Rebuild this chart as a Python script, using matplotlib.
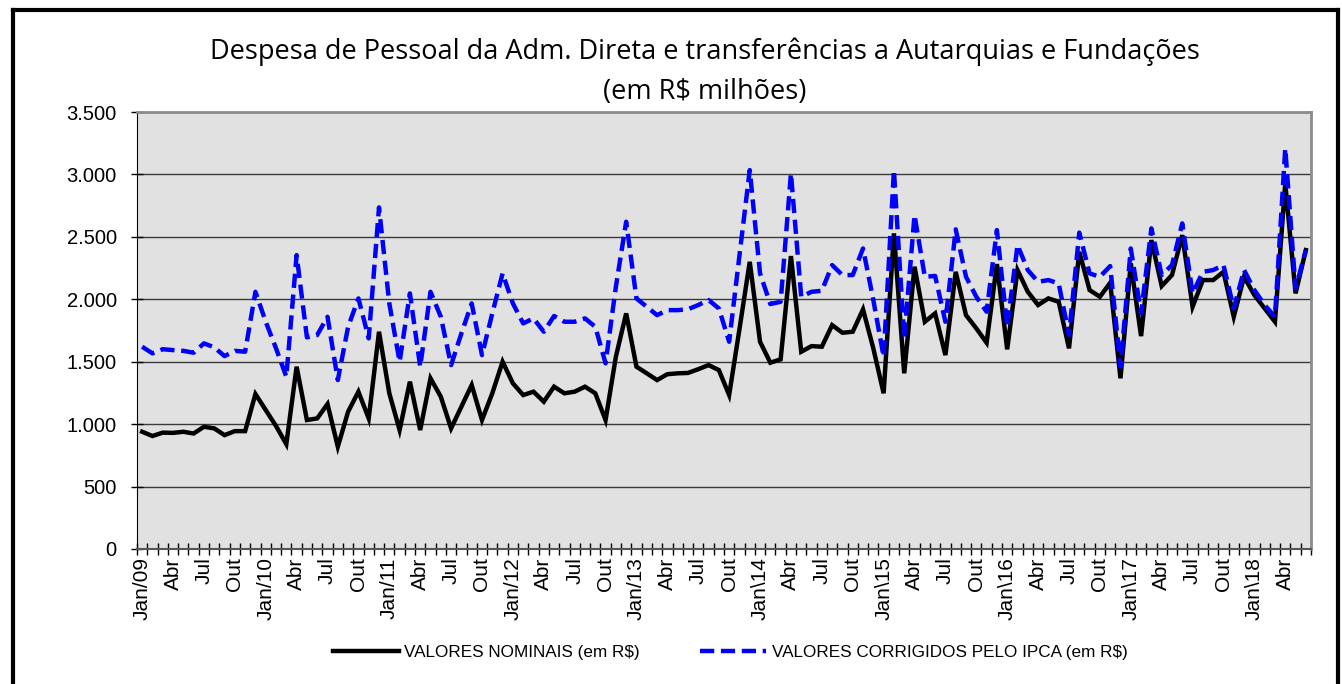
import numpy as np
import matplotlib
matplotlib.use("Agg")
import matplotlib.pyplot as plt
from matplotlib.lines import Line2D

tick_labels = [
    "Jan/09", "Abr", "Jul", "Out",
    "Jan/10", "Abr", "Jul", "Out",
    "Jan/11", "Abr", "Jul", "Out",
    "Jan/12", "Abr", "Jul", "Out",
    "Jan/13", "Abr", "Jul", "Out",
    "Jan\\14", "Abr", "Jul", "Out",
    "Jan\\15", "Abr", "Jul", "Out",
    "Jan\\16", "Abr", "Jul", "Out",
    "Jan\\17", "Abr", "Jul", "Out",
    "Jan\\18", "Abr",
]

nominais = [
    939, 905, 932, 930, 939, 925, 979, 966, 912, 944, 944, 1241,
    1113, 985, 840, 1460, 1033, 1046, 1161, 819, 1100, 1260, 1046, 1740,
    1247, 953, 1340, 953, 1367, 1220, 966, 1140, 1313, 1033, 1247, 1500,
    1327, 1233, 1260, 1180, 1300, 1247, 1260, 1300, 1247, 1033, 1540, 1887,
    1460, 1407, 1353, 1400, 1407, 1410, 1440, 1473, 1433, 1233, 1760, 2300,
    1660, 1492, 1519, 2346, 1580, 1625, 1620, 1793, 1732, 1740, 1919, 1607,
    1247, 2528, 1407, 2261, 1820, 1887, 1553, 2220, 1873, 1767, 1652, 2282,
    1599, 2234, 2060, 1954, 2007, 1980, 1607, 2380, 2074, 2020, 2132, 1367,
    2288, 1705, 2474, 2106, 2194, 2514, 1940, 2154, 2154, 2220, 1860, 2180,
    2034, 1927, 1820, 2928, 2047, 2394,
]

corrigidos = [
    1620, 1567, 1600, 1593, 1587, 1572, 1647, 1615, 1545, 1587, 1580, 2060,
    1820, 1607, 1380, 2354, 1695, 1714, 1860, 1353, 1780, 2007, 1687, 2736,
    1967, 1500, 2047, 1460, 2060, 1860, 1473, 1727, 1967, 1553, 1887, 2207,
    1967, 1807, 1847, 1740, 1866, 1820, 1820, 1847, 1780, 1487, 2100, 2621,
    2007, 1940, 1873, 1913, 1913, 1920, 1954, 1994, 1927, 1660, 2350, 3035,
    2207, 1962, 1980, 3008, 2020, 2060, 2068, 2274, 2194, 2194, 2407, 1994,
    1540, 3035, 1687, 2674, 2180, 2187, 1820, 2560, 2180, 2020, 1900, 2554,
    1780, 2434, 2234, 2140, 2154, 2127, 1714, 2534, 2207, 2180, 2266, 1460,
    2407, 1887, 2568, 2194, 2274, 2608, 2047, 2220, 2234, 2274, 1927, 2234,
    2074, 1954, 1860, 3208, 2087, 2394,
]

W, H = 1342, 684
fig = plt.figure(figsize=(W / 100, H / 100), dpi=100)
fig.patch.set_facecolor("white")

ax = fig.add_axes([137 / W, 1 - 549 / H, (1311 - 137) / W, (549 - 112) / H])
ax.set_facecolor("#e1e1e1")

x = np.arange(len(nominais))
ax.plot(x, nominais, color="black", lw=3.2, solid_joinstyle="miter", zorder=3,
        label="VALORES NOMINAIS (em R$)")
ax.plot(x, corrigidos, color="#0000ff", lw=3.2, ls=(0, (3.2, 1.5)), zorder=4,
        label="VALORES CORRIGIDOS PELO IPCA (em R$)")

ax.set_xlim(-0.5, len(nominais) - 0.5)
ax.set_ylim(0, 3500)
yt = np.arange(0, 3501, 500)
ax.set_yticks(yt)
ax.set_yticklabels([f"{v:,}".replace(",", ".") for v in yt],
                   fontsize=14.5, family="Liberation Sans")
for v in yt[1:]:
    ax.axhline(v, color="#3a3a3a", lw=1.0, zorder=1)

label_pos = np.arange(0, len(nominais), 3)[:len(tick_labels)]
ax.set_xticks(label_pos)
ax.set_xticklabels(tick_labels, rotation=90, fontsize=15, family="Liberation Sans")
ax.tick_params(axis="x", which="major", length=0, pad=6)
ax.set_xticks(np.arange(-0.5, len(nominais)), minor=True)
ax.tick_params(axis="x", which="minor", direction="inout", length=9, width=1, color="black")
ax.tick_params(axis="y", which="major", direction="inout", length=9, width=1, pad=10)

for s in ["top", "right"]:
    ax.spines[s].set_color("#8c8c8c")
    ax.spines[s].set_linewidth(2)
ax.spines["left"].set_color("black")
ax.spines["bottom"].set_color("#555555")
ax.spines["bottom"].set_linewidth(1.5)

fig.text(705 / W, 1 - 52 / H, "Despesa de Pessoal da Adm. Direta e transferências a Autarquias e Fundações",
         ha="center", va="center", fontsize=19.5, family="Open Sans")
fig.text(705 / W, 1 - 92 / H, "(em R$ milhões)", ha="center", va="center",
         fontsize=19.5, family="Open Sans")

leg = fig.legend(loc="center", bbox_to_anchor=(730 / W, 1 - 652 / H), ncol=2, frameon=False,
                 prop={"family": "Liberation Sans", "size": 12.3}, handlelength=3.9,
                 columnspacing=3.5, handletextpad=0.3)

# outer frame
lw = 3
fig.add_artist(Line2D([13 / W, 13 / W], [0, 1 - 10 / H], color="black", lw=lw))
fig.add_artist(Line2D([13 / W, 1338 / W], [1 - 10 / H, 1 - 10 / H], color="black", lw=lw))
fig.add_artist(Line2D([1338 / W, 1338 / W], [0, 1 - 10 / H], color="black", lw=lw))

fig.savefig("out.png", dpi=100)
